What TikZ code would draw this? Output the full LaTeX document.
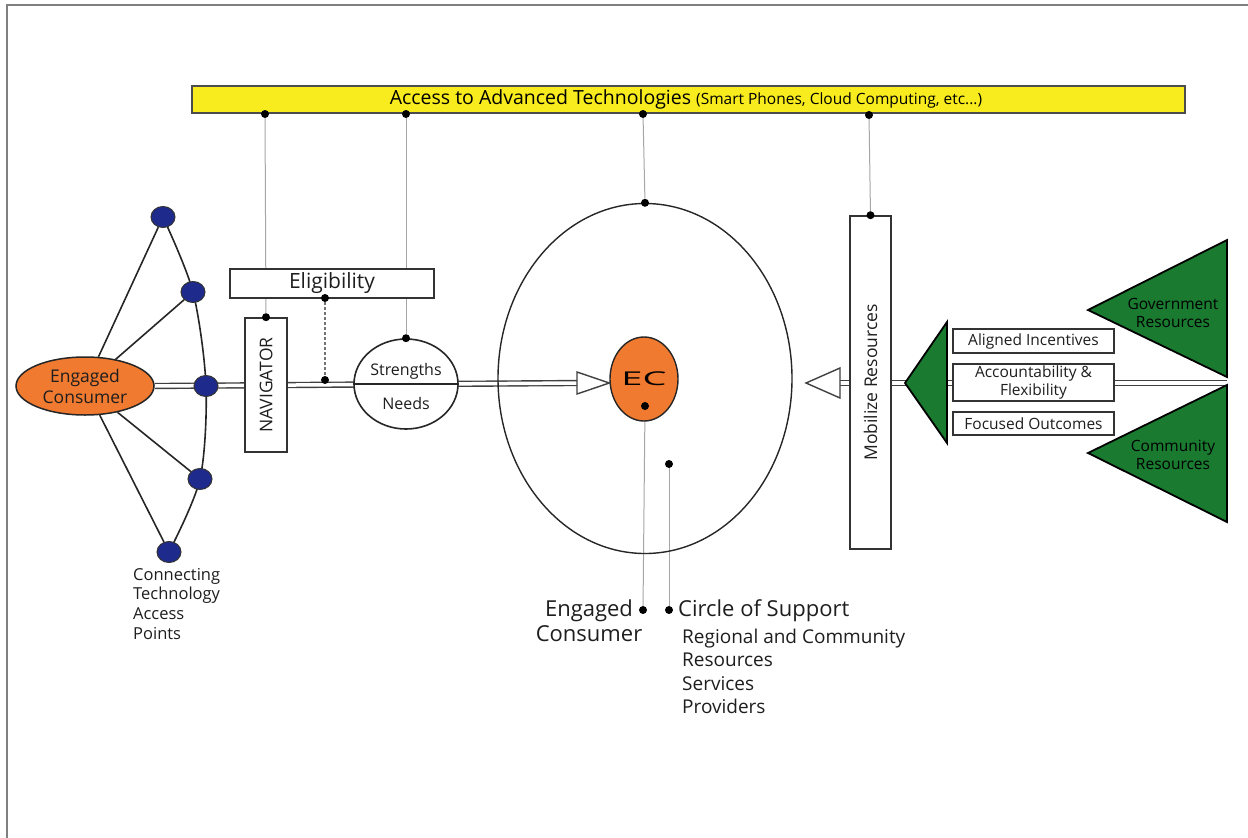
\documentclass[tikz,border=0pt]{standalone}
\usepackage{fontspec}
\setmainfont{Open Sans}
\usepackage{tikz}
\usetikzlibrary{shapes}
\usetikzlibrary{calc}
\usetikzlibrary{positioning}
\usetikzlibrary{backgrounds}
\definecolor{ecorange}{RGB}{240,122,47}
\definecolor{tapblue}{RGB}{31,43,140}
\definecolor{resgreen}{RGB}{26,122,48}
\definecolor{techyellow}{RGB}{248,236,30}
\definecolor{inkgray}{RGB}{30,30,30}
\tikzstyle{techbar} = [
    rectangle,
    draw=black!70,
    line width=2pt,
    fill=techyellow,
    minimum width=993pt,
    minimum height=27pt,
    inner sep=0pt
]
\tikzstyle{box}      = [rectangle, draw=black!80, line width=1.6pt, fill=white, inner sep=0pt, text centered, text=inkgray]
\tikzstyle{tap}      = [ellipse, draw=black!80, line width=1pt, fill=tapblue, minimum width=24pt, minimum height=21pt, inner sep=0pt]
\tikzstyle{dot}      = [circle, fill=black, minimum size=8pt, inner sep=0pt]
\tikzstyle{link}     = [draw=black!35, line width=1pt]
\tikzstyle{axis}     = [draw=black!75, line width=1.4pt, double=white, double distance=3.5pt]
\tikzstyle{spoke}    = [draw=black!85, line width=1.6pt]
\tikzstyle{headin}   = [draw=black!75, line width=1.4pt, fill=white]
\tikzstyle{resource} = [draw=black, line width=1.8pt, fill=resgreen, line join=miter]
\tikzstyle{txt}      = [inner sep=0pt, text=inkgray]
\newcommand{\fsz}[2]{\fontsize{#1}{#2}\selectfont}

\begin{document}
\begin{tikzpicture}[x=1pt, y=-1pt]
\useasboundingbox (0,0) rectangle (1248,838);
\draw[black!50, line width=2.5pt] (7,838) -- (7,5) -- (1248,5);

\node[techbar] (tech) at (688.5,99.5)
{\hspace*{-5pt}\fsz{19.5}{22}Access to Advanced Technologies {\fsz{15.5}{18}(Smart Phones, Cloud Computing, etc...)}};
\node[dot] (t1) at (265,114) {};
\node[dot] (t2) at (406,114) {};
\node[dot] (t3) at (643,114) {};
\node[dot] (t4) at (869,115) {};

\node[ellipse, draw=black!85, line width=1.5pt, fill=ecorange, minimum width=138pt, minimum height=58pt,
      inner sep=0pt, align=center, text=inkgray, font=\fsz{17.5}{21}] (consumer) at (85,386) {Engaged\\Consumer};

\node[tap] (tap1) at (163,217) {};
\node[tap] (tap2) at (193,292) {};
\node[tap] (tap3) at (206,386) {};
\node[tap] (tap4) at (200,479) {};
\node[tap] (tap5) at (169,552) {};
\node[txt, anchor=north west, align=left, font=\fsz{16.5}{19.6}] (taplabel) at (133,568)
{Connecting\\Technology\\Access\\Points};

\node[box, minimum width=204pt, minimum height=29pt, font=\fsz{21}{23}] (elig) at (332,283.5) {Eligibility};
\node[box, minimum width=42pt, minimum height=134pt, font=\fsz{17.5}{20}] (nav) at (266,385) {\rotatebox{90}{NAVIGATOR}};
\node[dot] (navdot)  at (nav.north) {};
\node[dot] (eligdot) at (325,298) {};
\node[dot] (eligax)  at (325,380) {};

\node[ellipse, draw=black!85, line width=1.6pt, fill=white, minimum width=104pt, minimum height=90pt] (sn) at (406,384) {};
\draw[black!85, line width=1.6pt] (sn.west) -- (sn.east);
\node[txt, font=\fsz{16}{18}] (strengths) at (406,371) {Strengths};
\node[txt, font=\fsz{16}{18}] (needs)     at (406,403) {Needs};
\node[dot] (sndot) at (sn.north) {};

\node[ellipse, draw=black!85, line width=1.4pt, minimum width=294pt, minimum height=350pt] (circ) at (645,378.5) {};
\node[dot] (circdot) at (circ.north) {};
\node[ellipse, draw=black!85, line width=1.4pt, fill=ecorange, minimum width=68pt, minimum height=84pt, inner sep=0pt,
      font=\fsz{19}{22}] (ec) at (644,379) {\raisebox{-2pt}{\scalebox{2}[1]{EC}}};
\coordinate (ecbase) at (577,383);
\draw[headin] ($(ecbase)+(0,-11)$) -- (ec.west |- ecbase) -- ($(ecbase)+(0,11)$) -- cycle;
\node[dot] (ecdot)  at (645,406) {};
\node[dot] (cosdot) at (669,464) {};
\node[dot] (ecend)  at (643,610) {};
\node[dot] (cosend) at (669,610) {};

\node[txt, align=center, font=\fsz{22}{25}] (eclabel) at (589,621) {Engaged\\Consumer};
\node[txt, anchor=west, font=\fsz{22}{25}] (coslabel) at (678,611) {Circle of Support};
\node[txt, anchor=north west, align=left, font=\fsz{19}{23.3}] (coslist) at (682,629)
{Regional and Community\\Resources\\Services\\Providers};

\node[box, minimum width=41pt, minimum height=333pt, font=\fsz{17.5}{20}] (mob) at (870.5,382.5) {\rotatebox{90}{Mobilize Resources}};
\node[dot] (mobdot) at (mob.north) {};
\coordinate (mobbase) at (840,383);
\draw[headin] ($(mobbase)+(0,-15)$) -- ($(mobbase)+(-34,0)$) -- ($(mobbase)+(0,15)$) -- cycle;

\draw[resource] (905,383) -- (947,322) -- (947,443) -- cycle;
\node[box, minimum width=161pt, minimum height=24pt, font=\fsz{15.5}{17}] (aligned) at (1033.5,341) {Aligned Incentives};
\node[box, minimum width=161pt, minimum height=37pt, font=\fsz{15.5}{18}, align=center] (account) at (1033.5,382.5) {Accountability \&\\Flexibility};
\node[box, minimum width=161pt, minimum height=23pt, font=\fsz{15.5}{17}] (focused) at (1033.5,423.5) {Focused Outcomes};

\coordinate (srcjoin) at (1227,383);
\draw[resource] (1088,310) -- (1227,240) -- (1227,377) -- cycle;
\draw[resource] (1088,453) -- (1227,385) -- (1227,522) -- cycle;
\node[txt, align=center, font=\fsz{15.5}{18}, text=black] (gov) at (1173,313) {Government\\Resources};
\node[txt, align=center, font=\fsz{15.5}{18}, text=black] (com) at (1173,455) {Community\\Resources};

\begin{scope}[on background layer]
\draw[spoke] plot[smooth] coordinates {(tap1.center) (tap2.center) (tap3.center) (tap4.center) (tap5.center)};
\draw[spoke] (consumer) -- (tap1);
\draw[spoke] (consumer) -- (tap2);
\draw[spoke] (consumer) -- (tap4);
\draw[spoke] (consumer) -- (tap5);
\draw[axis]  (consumer.east) -- (ecbase);
\draw[axis]  (mobbase) -- (srcjoin);
\draw[link]  (t1) -- (navdot);
\draw[link]  (t2) -- (sndot);
\draw[link]  (t3) -- (circdot);
\draw[link]  (t4) -- (mobdot);
\draw[link]  (ecdot) -- (ecend);
\draw[link]  (cosdot) -- (cosend);
\draw[draw=black!55, line width=1.5pt, densely dashed] (eligdot) -- (eligax);
\end{scope}
\end{tikzpicture}
\end{document}
